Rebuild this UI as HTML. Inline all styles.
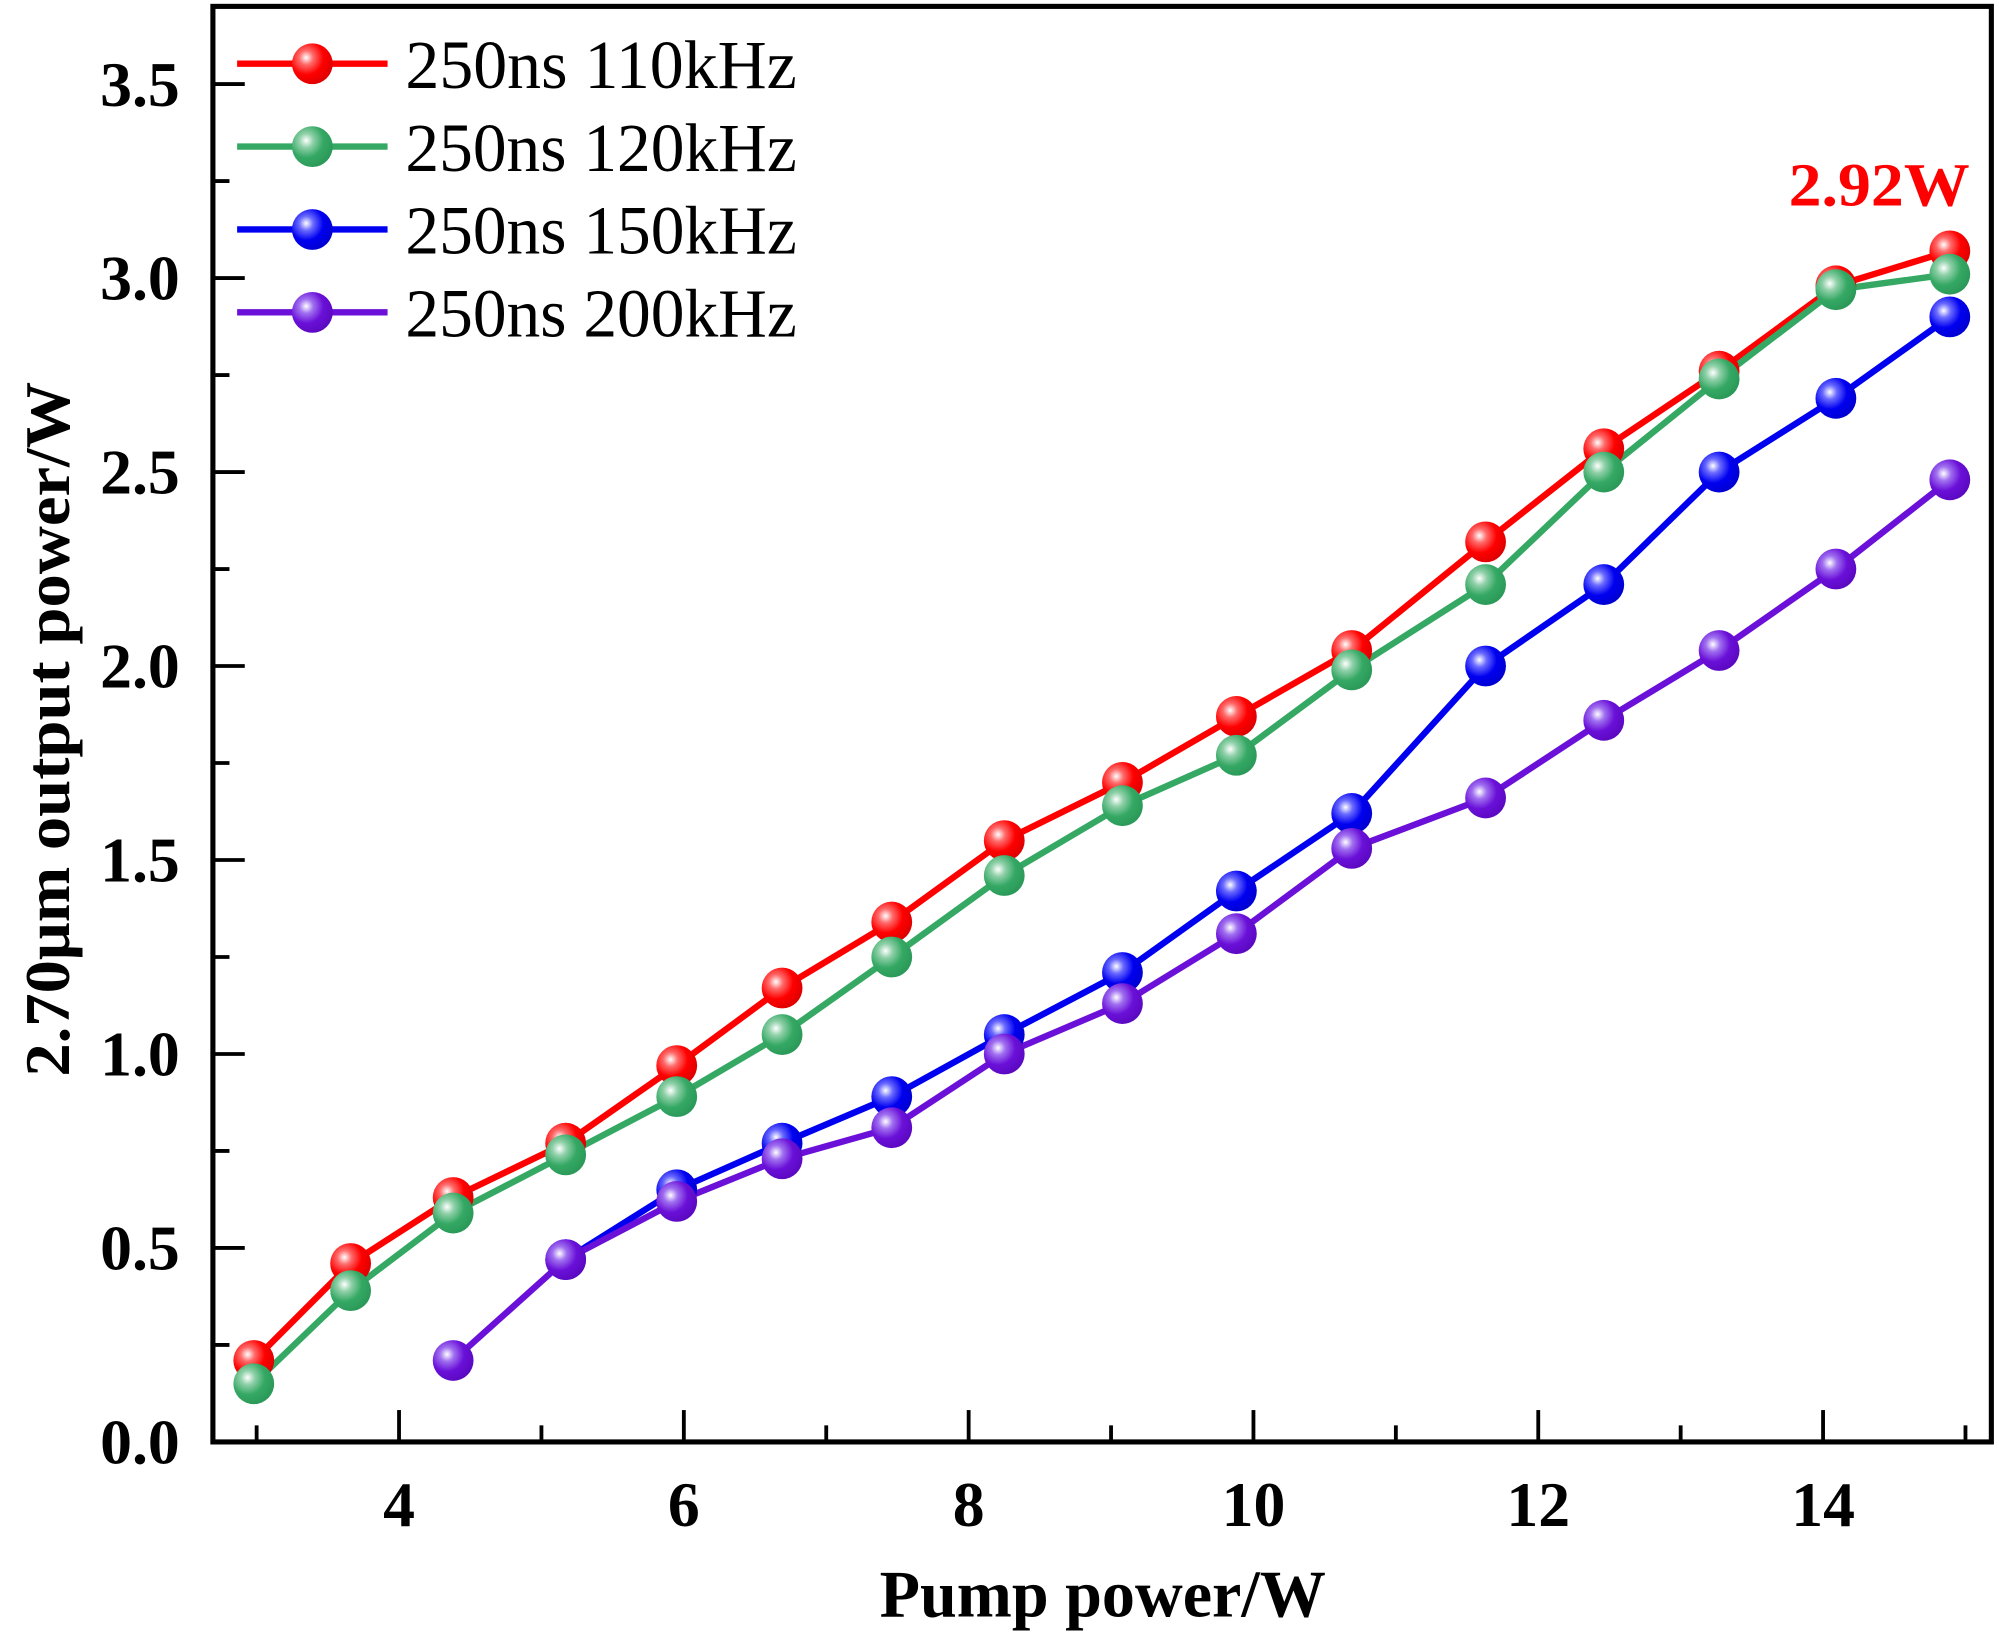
<!DOCTYPE html>
<html><head><meta charset="utf-8"><style>
html,body{margin:0;padding:0;background:#fff;}
svg{display:block;}
text{font-family:"Liberation Serif","Times New Roman",serif;}
</style></head><body>
<svg id="chart" width="1999" height="1637" viewBox="0 0 1568 1284" preserveAspectRatio="none" xmlns="http://www.w3.org/2000/svg">
<defs>
<radialGradient id="gred" cx="0.35" cy="0.35" r="0.7"><stop offset="0" stop-color="#fff"/><stop offset="0.25" stop-color="#ff6a6a"/><stop offset="0.6" stop-color="#f00"/><stop offset="1" stop-color="#d00"/></radialGradient>
<radialGradient id="ggreen" cx="0.35" cy="0.35" r="0.7"><stop offset="0" stop-color="#fff"/><stop offset="0.25" stop-color="#8fd0a8"/><stop offset="0.6" stop-color="#35a864"/><stop offset="1" stop-color="#2a9858"/></radialGradient>
<radialGradient id="gblue" cx="0.35" cy="0.35" r="0.7"><stop offset="0" stop-color="#fff"/><stop offset="0.25" stop-color="#6a6aff"/><stop offset="0.6" stop-color="#0000f0"/><stop offset="1" stop-color="#0000d0"/></radialGradient>
<radialGradient id="gpurple" cx="0.35" cy="0.35" r="0.7"><stop offset="0" stop-color="#fff"/><stop offset="0.25" stop-color="#a070f0"/><stop offset="0.6" stop-color="#6a10d8"/><stop offset="1" stop-color="#5a08c0"/></radialGradient>
</defs>
<g id="marks"></g>
<rect x="167" y="5" width="1395" height="1126" fill="none" stroke="#000" stroke-width="4"/>
<g id="axes"></g>
<text x="865" y="1268" font-size="52" font-weight="bold" text-anchor="middle" textLength="350" lengthAdjust="spacingAndGlyphs">Pump power/W</text>
<text transform="translate(54,572) rotate(-90)" font-size="50" font-weight="bold" text-anchor="middle" textLength="545" lengthAdjust="spacingAndGlyphs">2.70μm output power/W</text>
<text x="1474" y="161" font-size="48" font-weight="bold" fill="#f00" text-anchor="middle" textLength="142" lengthAdjust="spacingAndGlyphs">2.92W</text>
<g id="legend"></g>
</svg>
<script>
const xRed=[2.98,3.66,4.38,5.17,5.95,6.69,7.46,8.25,9.08,9.88,10.69,11.63,12.46,13.27,14.09,14.89];
const yRed=[0.21,0.46,0.63,0.77,0.97,1.17,1.34,1.55,1.70,1.87,2.04,2.32,2.56,2.76,2.98,3.07];
const xGreen=[2.98,3.66,4.38,5.17,5.95,6.69,7.46,8.25,9.08,9.88,10.69,11.63,12.46,13.27,14.09,14.89];
const yGreen=[0.15,0.39,0.59,0.74,0.89,1.05,1.25,1.46,1.64,1.77,1.99,2.21,2.50,2.74,2.97,3.01];
const xBlue=[5.17,5.95,6.69,7.46,8.25,9.08,9.88,10.69,11.63,12.46,13.27,14.09,14.89];
const yBlue=[0.47,0.65,0.77,0.89,1.05,1.21,1.42,1.62,2.00,2.21,2.50,2.69,2.90];
const xPurple=[4.38,5.17,5.95,6.69,7.46,8.25,9.08,9.88,10.69,11.63,12.46,13.27,14.09,14.89];
const yPurple=[0.21,0.47,0.62,0.73,0.81,1.00,1.13,1.31,1.53,1.66,1.86,2.04,2.25,2.48];
const seriesNames=["250ns 110kHz","250ns 120kHz","250ns 150kHz","250ns 200kHz"];
const xTickLabels=["4","6","8","10","12","14"];
const yTickLabels=["0.0","0.5","1.0","1.5","2.0","2.5","3.0","3.5"];

const NS="http://www.w3.org/2000/svg";
function X(v){return 313+(v-4)*111.7;}
function Y(v){return 1131-v*304.3;}
function mk(tag,attrs,parent){const e=document.createElementNS(NS,tag);for(const k in attrs)e.setAttribute(k,attrs[k]);parent.appendChild(e);return e;}
const marks=document.getElementById('marks'),axes=document.getElementById('axes'),legend=document.getElementById('legend');
const series=[[xRed,yRed,"#f00","gred","red"],[xGreen,yGreen,"#35a864","ggreen","green"],[xBlue,yBlue,"#0000f0","gblue","blue"],[xPurple,yPurple,"#6a10d8","gpurple","purple"]];
series.forEach(s=>{
  const g=mk('g',{},marks);
  
  
  const pl=mk('polyline',{points:s[0].map((x,i)=>X(x)+','+Y(s[1][i])).join(' '),fill:'none',stroke:s[2],'stroke-width':5},g);
  
  
});
series.forEach(s=>{
  s[0].forEach((x,i)=>{
    const c=mk('ellipse',{cx:X(x),cy:Y(s[1][i]),rx:16,ry:16,fill:'url(#'+s[3]+')'},marks);
    
    
  });
});
for(let v=3;v<=15;v++){
  const major=v%2===0;
  const t=mk('line',{x1:X(v),x2:X(v),y1:1131,y2:major?1106:1118,stroke:'#000','stroke-width':3},axes);
  
  
}
xTickLabels.forEach(l=>{
  const t=mk('text',{x:X(+l),y:1197,'font-size':50,'font-weight':'bold','text-anchor':'middle'},axes);
  t.textContent=l;
  
  
});
for(let k=0;k<=14;k++){
  const v=k*0.25,major=k%2===0;
  const t=mk('line',{x1:167,x2:major?192:180,y1:Y(v),y2:Y(v),stroke:'#000','stroke-width':3},axes);
  
  
}
yTickLabels.forEach(l=>{
  const t=mk('text',{x:141,y:Y(+l)+17,'font-size':50,'font-weight':'bold','text-anchor':'end'},axes);
  t.textContent=l;
  
  
});
series.forEach((s,i)=>{
  const y=50+i*65;
  const g=mk('g',{},legend);
  
  
  mk('line',{x1:186,x2:304,y1:y,y2:y,stroke:s[2],'stroke-width':5},g);
  mk('ellipse',{cx:245,cy:y,rx:16,ry:16,fill:'url(#'+s[3]+')'},g);
  const t=mk('text',{x:318,y:y+19,'font-size':54,textLength:307,lengthAdjust:'spacingAndGlyphs'},g);
  t.textContent=seriesNames[i];
});
</script>
</body></html>
